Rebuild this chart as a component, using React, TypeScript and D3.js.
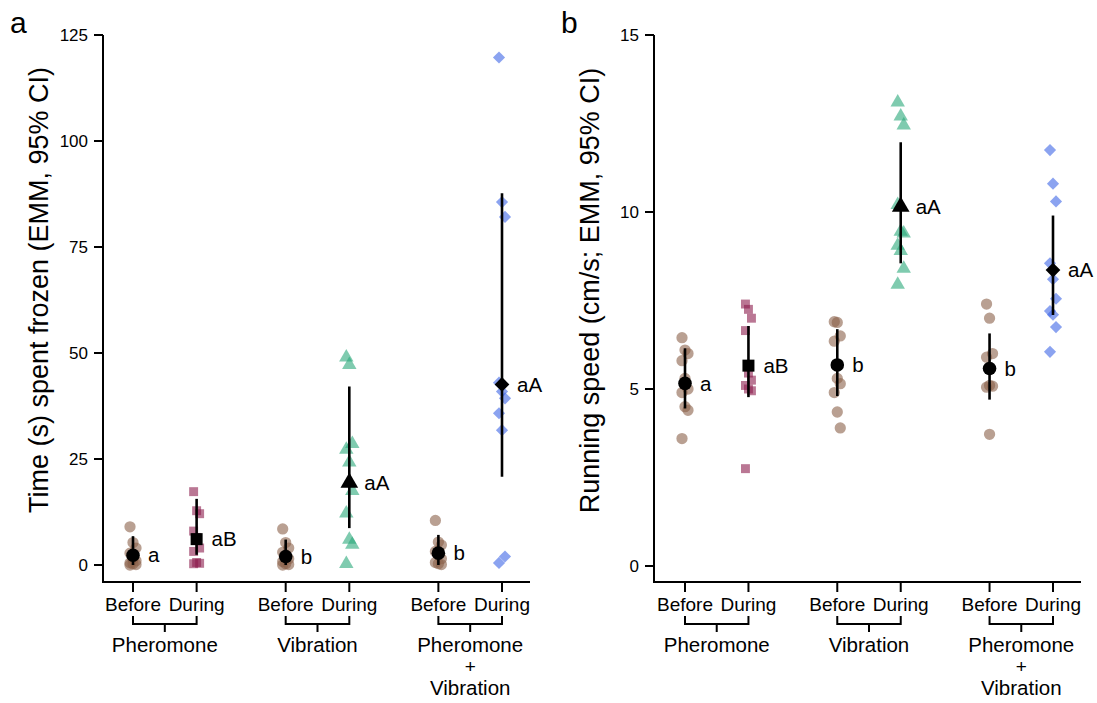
import React, { useEffect } from "react";
import * as d3 from "d3";

// ---- data ----
const conditions = ["Before", "During", "Before", "During", "Before", "During"];
const groups = ["Pheromone", "Vibration", "Pheromone + Vibration"];
const letters = ["a", "aB", "b", "aA", "b", "aA"];

// panel a: time spent frozen (s)
const frozenPherBefore = [9.0, 5.3, 4.0, 2.8, 1.5, 1.0, 0.5, 0.3, 0.1, 0];
const frozenPherDuring = [17.3, 12.8, 12.1, 8.0, 6.5, 4.0, 3.2, 0.6, 0.4, 0.3];
const frozenVibBefore = [8.5, 5.3, 4.0, 3.0, 2.2, 1.5, 0.8, 0.3, 0.1, 0];
const frozenVibDuring = [49.0, 47.2, 28.6, 27.2, 24.2, 17.5, 12.2, 6.0, 4.8, 0.3];
const frozenPVBefore = [10.5, 5.4, 4.7, 3.2, 2.5, 1.5, 0.6, 0.3, 0.1];
const frozenPVDuring = [119.7, 85.6, 82.1, 43.0, 40.9, 39.3, 35.8, 31.8, 2.0, 0.5];
const frozenMean = [2.3, 6.1, 2.0, 19.4, 2.8, 42.6];
const frozenLower = [0, 2.4, 0, 8.7, 0, 20.8];
const frozenUpper = [6.8, 15.6, 6.0, 42.1, 7.1, 87.7];
const frozenTicks = [0, 25, 50, 75, 100, 125];

// panel b: running speed (cm/s)
const speedPherBefore = [6.45, 6.1, 6.0, 5.8, 5.3, 5.0, 4.9, 4.5, 4.4, 3.6];
const speedPherDuring = [7.4, 7.25, 7.0, 6.65, 5.45, 5.25, 5.1, 5.0, 4.95, 2.75];
const speedVibBefore = [6.9, 6.88, 6.5, 6.35, 5.3, 5.15, 4.9, 4.35, 3.9];
const speedVibDuring = [13.1, 12.7, 12.45, 10.2, 9.45, 9.4, 9.05, 8.9, 8.4, 7.95];
const speedPVBefore = [7.4, 7.0, 6.0, 5.9, 5.1, 5.08, 5.05, 3.72];
const speedPVDuring = [11.75, 10.8, 10.3, 8.55, 8.1, 7.55, 7.2, 7.1, 6.75, 6.05];
const speedMean = [5.16, 5.66, 5.68, 10.15, 5.58, 8.36];
const speedLower = [4.45, 4.77, 4.8, 8.55, 4.7, 7.09];
const speedUpper = [6.15, 6.78, 6.69, 11.97, 6.57, 9.9];
const speedTicks = [0, 5, 10, 15];

// x slots for the six conditions (groups spaced apart)
const slots = [1, 2, 3.4, 4.4, 5.8, 6.8];

const FONT = "'Liberation Sans', Arial, Helvetica, sans-serif";

// per-condition marker style
const styles = [
  { shape: d3.symbolCircle, fill: "#8a6149", size: 100, meanSize: 145, rot: 0 },
  { shape: d3.symbolSquare, fill: "#8c1c4c", size: 80, meanSize: 144, rot: 0 },
  { shape: d3.symbolCircle, fill: "#8a6149", size: 100, meanSize: 145, rot: 0 },
  { shape: d3.symbolTriangle, fill: "#2aa97a", size: 90, meanSize: 135, rot: 0 },
  { shape: d3.symbolCircle, fill: "#8a6149", size: 100, meanSize: 145, rot: 0 },
  { shape: d3.symbolSquare, fill: "#3d66e6", size: 74, meanSize: 108, rot: 45 },
];

const Panel = ({ letter, title, left, right, firstX, lastX, yMax, yTop, yZero, ticks, series, mean, lower, upper }) => {
  const x = d3.scaleLinear().domain([slots[0], slots[5]]).range([firstX, lastX]);
  const y = d3.scaleLinear().domain([0, yMax]).range([yZero, yTop]);
  const axisY = 582;
  const fmt = d3.format("d");

  return (
    <g fontFamily={FONT} fill="#000">
      <text x={left - 93} y={33} fontSize={30}>{letter}</text>
      {/* y axis */}
      <line x1={left} x2={left} y1={y(yMax)} y2={axisY} stroke="#000" strokeWidth={2} />
      {ticks.map((t) => (
        <g key={t}>
          <line x1={left - 9} x2={left} y1={y(t)} y2={y(t)} stroke="#000" strokeWidth={2} />
          <text x={left - 15} y={y(t)} dy="0.35em" textAnchor="end" fontSize={17}>{fmt(t)}</text>
        </g>
      ))}
      <text
        transform={`translate(${left - 55},${(y(yMax) + yZero) / 2 - 10}) rotate(-90)`}
        textAnchor="middle"
        fontSize={27}
      >
        {title}
      </text>
      {/* x axis */}
      <line x1={left - 1} x2={right} y1={axisY} y2={axisY} stroke="#000" strokeWidth={2} />
      {slots.map((s, i) => (
        <g key={i}>
          <line x1={x(s)} x2={x(s)} y1={axisY} y2={axisY + 10} stroke="#000" strokeWidth={2} />
          <text x={x(s)} y={611} textAnchor="middle" fontSize={19}>{conditions[i]}</text>
        </g>
      ))}
      {groups.map((gname, gi) => {
        const x0 = x(slots[gi * 2]);
        const x1 = x(slots[gi * 2 + 1]);
        const cx = (x0 + x1) / 2;
        const parts = gname.split(" + ");
        return (
          <g key={gname}>
            <path d={`M${x0},616V624H${x1}V616M${cx},624V632`} fill="none" stroke="#000" strokeWidth={2} />
            <text x={cx} y={652} textAnchor="middle" fontSize={20.5}>{parts[0]}</text>
            {parts.length > 1 && (
              <>
                <text x={cx} y={673} textAnchor="middle" fontSize={19}>+</text>
                <text x={cx} y={695} textAnchor="middle" fontSize={20.5}>{parts[1]}</text>
              </>
            )}
          </g>
        );
      })}
      {/* raw points */}
      {series.map((vals, i) => {
        const st = styles[i];
        const path = d3.symbol().type(st.shape).size(st.size)();
        return vals.map((v, j) => (
          <path
            key={`${i}-${j}`}
            d={path}
            transform={`translate(${x(slots[i]) + ((j % 3) - 1) * 3},${y(v)}) rotate(${st.rot})`}
            fill={st.fill}
            fillOpacity={0.6}
          />
        ));
      })}
      {/* EMM with 95% CI */}
      {mean.map((m, i) => {
        const st = styles[i];
        const path = d3.symbol().type(st.shape).size(st.meanSize)();
        return (
          <g key={`m${i}`}>
            <line x1={x(slots[i])} x2={x(slots[i])} y1={y(lower[i])} y2={y(upper[i])} stroke="#000" strokeWidth={2.6} />
            <path d={path} transform={`translate(${x(slots[i])},${y(m)}) rotate(${st.rot})`} fill="#000" />
            <text x={x(slots[i]) + 15} y={y(m)} dy="0.35em" fontSize={20.5}>{letters[i]}</text>
          </g>
        );
      })}
    </g>
  );
};

export default function App() {
  useEffect(() => {
    document.body.style.margin = "0";
  }, []);

  return (
    <svg width={1097} height={703} style={{ display: "block", background: "#fff" }}>
      <Panel
        letter="a"
        title="Time (s) spent frozen (EMM, 95% CI)"
        left={103}
        right={530}
        firstX={133}
        lastX={502}
        yMax={125}
        yTop={35}
        yZero={565}
        ticks={frozenTicks}
        series={[frozenPherBefore, frozenPherDuring, frozenVibBefore, frozenVibDuring, frozenPVBefore, frozenPVDuring]}
        mean={frozenMean}
        lower={frozenLower}
        upper={frozenUpper}
      />
      <Panel
        letter="b"
        title="Running speed (cm/s; EMM, 95% CI)"
        left={654}
        right={1081}
        firstX={685}
        lastX={1053}
        yMax={15}
        yTop={35}
        yZero={566}
        ticks={speedTicks}
        series={[speedPherBefore, speedPherDuring, speedVibBefore, speedVibDuring, speedPVBefore, speedPVDuring]}
        mean={speedMean}
        lower={speedLower}
        upper={speedUpper}
      />
    </svg>
  );
}
